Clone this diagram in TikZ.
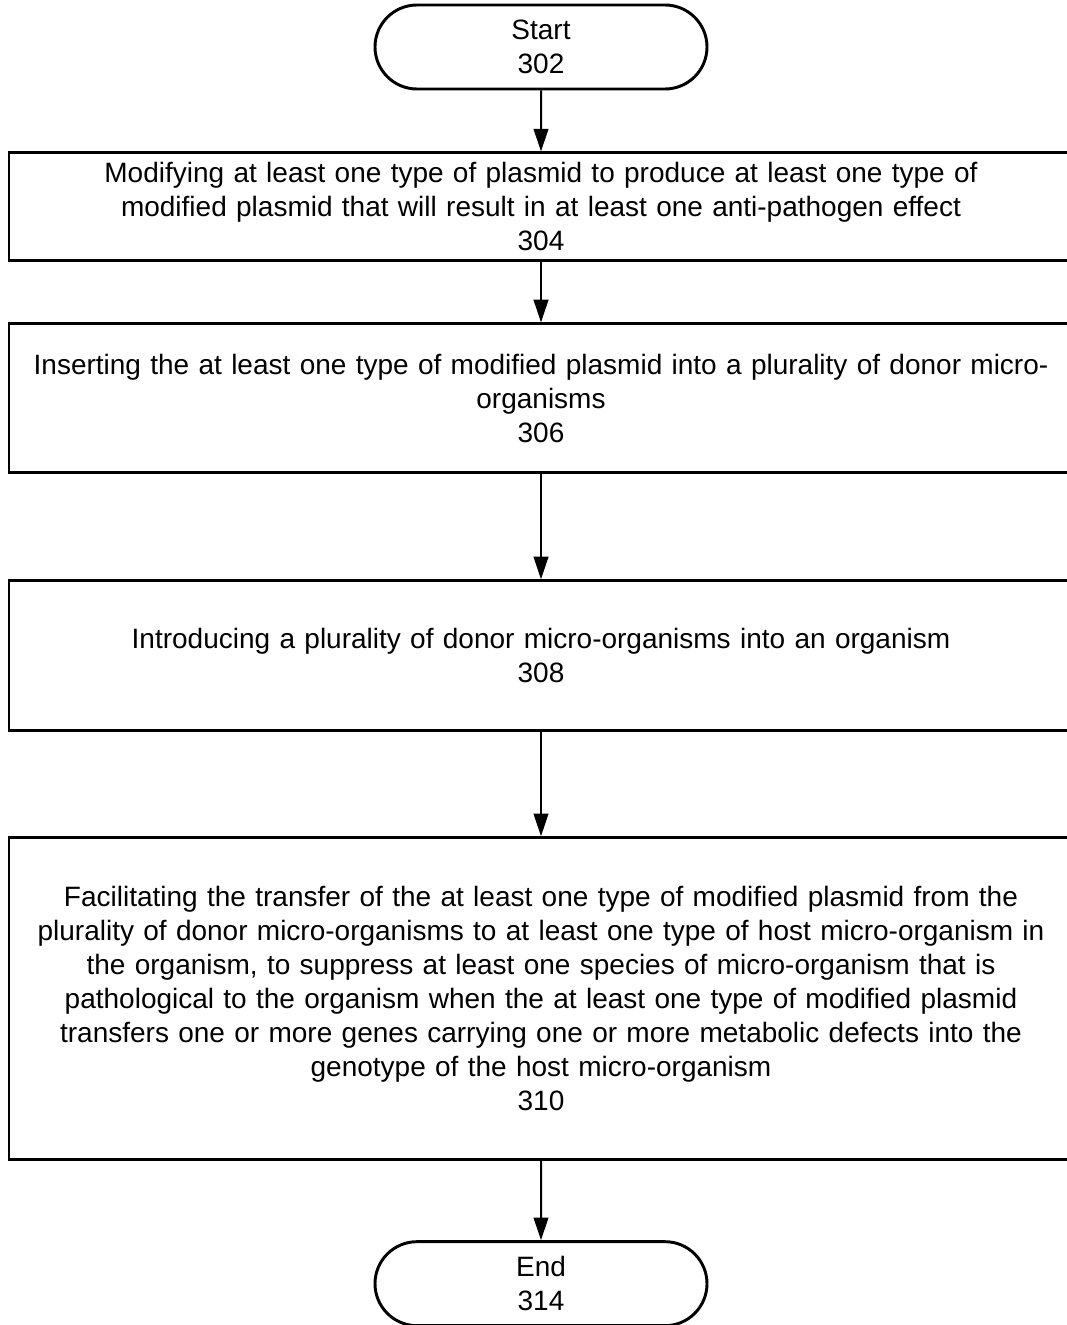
\documentclass[tikz,border=0pt]{standalone}
\usepackage{fontspec}
\setmainfont{Liberation Sans}
\usetikzlibrary{arrows.meta,positioning,shapes.misc}

\begin{document}
\begin{tikzpicture}[every node/.style={font=\fontsize{21}{25.5}\selectfont},
  stepbox/.style={draw,line width=2.2pt,minimum width=798pt,text width=780pt,align=center,inner sep=0pt},
  termbox/.style={draw,line width=2.2pt,rounded rectangle,minimum width=249pt,minimum height=63pt,align=center,inner sep=0pt}]
  \useasboundingbox (0,0) rectangle (800pt,-993.75pt);

  \node[termbox] (start) at (405.75pt,-35.25pt) {Start\\302};

  \node[stepbox,below=45.75pt of start,minimum height=81pt] (s304) {Modifying at least one type of plasmid to produce at least one type of\\modified plasmid that will result in at least one anti-pathogen effect\\304};
  \node[stepbox,below=45pt of s304,minimum height=111.75pt] (s306) {Inserting the at least one type of modified plasmid into a plurality of donor micro-\\organisms\\306};
  \node[stepbox,below=78.75pt of s306,minimum height=112.5pt] (s308) {Introducing a plurality of donor micro-organisms into an organism\\308};
  \node[stepbox,below=78pt of s308,minimum height=241.5pt] (s310) {Facilitating the transfer of the at least one type of modified plasmid from the\\plurality of donor micro-organisms to at least one type of host micro-organism in\\the organism, to suppress at least one species of micro-organism that is\\pathological to the organism when the at least one type of modified plasmid\\transfers one or more genes carrying one or more metabolic defects into the\\genotype of the host micro-organism\\310};

  \node[termbox,below=59.25pt of s310] (end) {End\\314};

  \foreach \a/\b in {start/s304,s304/s306,s306/s308,s308/s310,s310/end}{
    \draw[-{Triangle[length=17pt,width=11pt]},line width=1.5pt] (\a) -- (\b);
  }
\end{tikzpicture}
\end{document}
